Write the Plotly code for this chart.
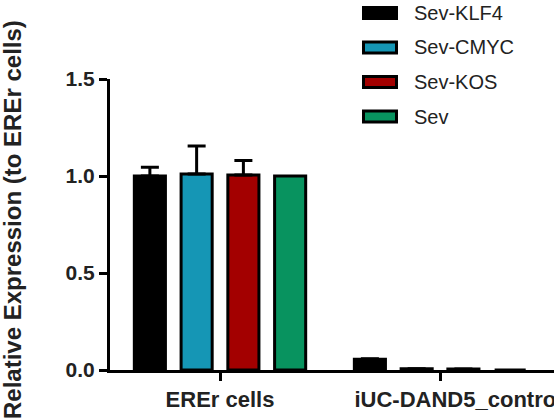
import plotly.graph_objects as go

categories = ["EREr cells", "iUC-DAND5_control"]
category_labels = ["EREr cells", "\u00a0\u00a0\u00a0\u00a0\u00a0\u00a0iUC-DAND5_control"]
series_names = ["Sev-KLF4", "Sev-CMYC", "Sev-KOS", "Sev"]
klf4 = [1.00, 0.055]
cmyc = [1.01, 0.006]
kos = [1.005, 0.005]
sev = [1.00, 0.0]
klf4_err = [0.045, 0.003]
cmyc_err = [0.145, None]
kos_err = [0.075, None]
sev_err = [None, None]
y_ticks = [0.0, 0.5, 1.0, 1.5]

values = [klf4, cmyc, kos, sev]
errors = [klf4_err, cmyc_err, kos_err, sev_err]
colors = ["#000000", "#1596B5", "#A30000", "#08935F"]

FONT = "Arial, Liberation Sans, sans-serif"

# layout geometry (pixels)
W, H = 554, 420
L, R, T, B = 110, 0, 79, 50
pw, ph = W - L - R, H - T - B

fig = go.Figure()
for name, vals, errs, col in zip(series_names, values, errors, colors):
    has_err = any(e is not None for e in errs)
    fig.add_trace(go.Bar(
        x=categories, y=vals, name=name,
        marker=dict(color=col, line=dict(color="#000000", width=3)),
        error_y=dict(type="data", array=errs, symmetric=False,
                     arrayminus=[0 if e is not None else None for e in errs],
                     color="#000000", thickness=3, width=9, visible=has_err),
        showlegend=False,
    ))

# custom legend (wide boxes)
def px2paper(xp, yp):
    return (xp - L) / pw, (H - B - yp) / ph

row_centers = [13, 47.5, 82, 116.5]
for name, col, yc in zip(series_names, colors, row_centers):
    x0, y0 = px2paper(363.5, yc - 5.5)
    x1, y1 = px2paper(396.5, yc + 5.5)
    fig.add_shape(type="rect", xref="paper", yref="paper",
                  x0=x0, x1=x1, y0=y0, y1=y1,
                  fillcolor=col, line=dict(color="#000000", width=3))
    tx, ty = px2paper(412, yc)
    fig.add_annotation(xref="paper", yref="paper", x=tx, y=ty,
                       text=name, showarrow=False, xanchor="left", yanchor="middle",
                       font=dict(family=FONT, size=20, color="#222222"))

# y axis title
tx, ty = px2paper(12, 220)
fig.add_annotation(xref="paper", yref="paper", x=tx, y=ty,
                   text="Relative Expression (to EREr cells)", showarrow=False,
                   textangle=-90, xanchor="center", yanchor="middle",
                   font=dict(family=FONT, size=24, color="#222222", weight="bold"))

fig.update_layout(
    width=W, height=H,
    margin=dict(l=L, r=R, t=T, b=B, pad=0, autoexpand=False),
    paper_bgcolor="white", plot_bgcolor="white",
    barmode="group", bargap=0.15, bargroupgap=0.335,
    xaxis=dict(range=[-0.5, 1.518], showline=True, linecolor="#000000", linewidth=3,
               tickmode="array", tickvals=categories, ticktext=category_labels,
               ticks="outside", ticklen=8, tickwidth=3, tickcolor="#000000",
               showgrid=False, zeroline=False, automargin=False,
               ticklabeloverflow="allow",
               tickfont=dict(family=FONT, size=22, color="#222222", weight="bold")),
    yaxis=dict(range=[0, 1.5], tickvals=y_ticks, tickformat=".1f",
               showline=True, linecolor="#000000", linewidth=3,
               ticks="outside", ticklen=8, tickwidth=3, tickcolor="#000000",
               showgrid=False, zeroline=False, automargin=False,
               tickfont=dict(family=FONT, size=21, color="#222222", weight="bold")),
)

fig.write_html("out.html")
